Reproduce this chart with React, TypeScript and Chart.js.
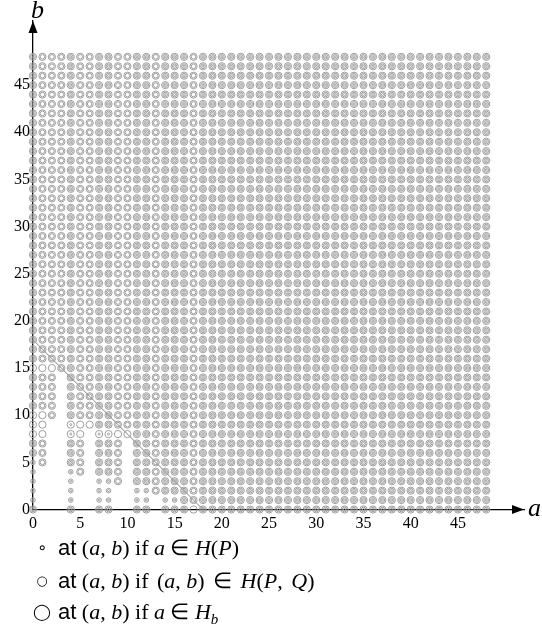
import React, { useEffect, useRef } from "react";
import { Chart, registerables } from "chart.js";

Chart.register(...registerables);

// grid extent (a and b run from 0 to these values)
const A_MAX = 48;
const B_MAX = 48;

// tick labels
const xTickValues = [0, 5, 10, 15, 20, 25, 30, 35, 40, 45];
const yTickValues = [0, 5, 10, 15, 20, 25, 30, 35, 40, 45];

// gaps of H(P): columns without the small circle
const hpGaps = [1, 2, 3, 5, 6, 9, 10, 13, 17];

// rows b = 0..15: a-values with neither medium nor large circle
const emptyByRow: number[][] = [
  [1, 2, 3, 5, 6, 9, 10, 13],
  [1, 2, 3, 5, 6, 9, 10, 13],
  [1, 2, 3, 5, 6, 9, 10],
  [1, 2, 3, 5, 6, 10],
  [1, 2, 3, 6, 10],
  [2, 3, 6, 10],
  [2, 3, 6, 10],
  [2, 3, 6, 10],
  [2, 3, 6],
  [2, 3],
  [3],
  [3],
  [3],
  [3],
  [3],
  [],
];

// rows b = 0..15: a-values with the medium circle only
const mediumOnlyByRow: number[][] = [
  [],
  [0, 4, 7, 8, 11, 12, 14, 15],
  [0, 4, 7, 8, 11, 12],
  [0, 4, 7, 8],
  [0, 4],
  [0],
  [], [], [], [], [], [], [], [], [], [],
];

// rows b = 0..15: a-values with the large circle only
const largeOnlyByRow: number[][] = [
  [17],
  [], [], [], [], [], [], [],
  [0, 1, 4, 5, 7, 8, 9, 10],
  [0, 1, 4, 5, 6],
  [0, 1],
  [], [], [], [],
  [0, 1, 2],
];

// the line a + b = 18
const diagonal = [
  { x: 0, y: 18 },
  { x: 18, y: 0 },
];

const RING = "#9e9e9e";

function buildPoints() {
  const small: { x: number; y: number }[] = [];
  const medium: { x: number; y: number }[] = [];
  const large: { x: number; y: number }[] = [];
  for (let b = 0; b <= B_MAX; b++) {
    for (let a = 0; a <= A_MAX; a++) {
      if (!hpGaps.includes(a)) small.push({ x: a, y: b });
      const empty = (emptyByRow[b] || []).includes(a);
      const mOnly = (mediumOnlyByRow[b] || []).includes(a);
      const lOnly = (largeOnlyByRow[b] || []).includes(a);
      if (empty) continue;
      if (!lOnly) medium.push({ x: a, y: b });
      if (!mOnly) large.push({ x: a, y: b });
    }
  }
  return { small, medium, large };
}

const arrowPlugin = {
  id: "arrows",
  afterDraw(chart: any) {
    const { ctx, chartArea } = chart;
    const x0 = chartArea.left;
    const y0 = chartArea.bottom;
    ctx.save();
    ctx.fillStyle = "#000";
    // up arrow
    ctx.beginPath();
    ctx.moveTo(x0, chartArea.top);
    ctx.lineTo(x0 - 4.5, chartArea.top + 12);
    ctx.lineTo(x0 + 4.5, chartArea.top + 12);
    ctx.closePath();
    ctx.fill();
    // right arrow
    ctx.beginPath();
    ctx.moveTo(chartArea.right, y0);
    ctx.lineTo(chartArea.right - 12, y0 - 4.5);
    ctx.lineTo(chartArea.right - 12, y0 + 4.5);
    ctx.closePath();
    ctx.fill();
    ctx.restore();
  },
};

export default function App() {
  const ref = useRef<HTMLCanvasElement | null>(null);
  useEffect(() => {
    if (!ref.current) return;
    const { small, medium, large } = buildPoints();
    const ringDs = (data: any[], r: number) => ({
      data,
      pointRadius: r,
      pointBorderWidth: 1,
      pointBorderColor: RING,
      pointBackgroundColor: "rgba(0,0,0,0)",
      showLine: false,
      clip: false as any,
    });
    const chart = new Chart(ref.current, {
      type: "scatter",
      data: {
        datasets: [
          ringDs(large, 3.6),
          ringDs(medium, 2.3),
          ringDs(small, 1.0),
          {
            data: diagonal,
            showLine: true,
            borderColor: "#808080",
            borderWidth: 1,
            pointRadius: 0,
            clip: false as any,
          },
        ],
      },
      options: {
        responsive: false,
        animation: false,
        events: [],
        layout: { padding: { top: 21, right: 18, left: 0, bottom: 0 } },
        plugins: { legend: { display: false }, tooltip: { enabled: false } },
        scales: {
          x: {
            type: "linear",
            min: 0,
            max: 52,
            grid: { display: false, drawTicks: false },
            border: { display: true, color: "#000", width: 1.3 },
            afterFit: (s: any) => {
              s.height = 116.5;
            },
            afterBuildTicks: (s: any) => {
              s.ticks = xTickValues.map((v) => ({ value: v }));
            },
            ticks: {
              padding: 5,
              autoSkip: false,
              maxRotation: 0,
              color: "#000",
              font: { family: "Liberation Serif", size: 16 },
              callback: (v: any) => String(v),
            },
          },
          y: {
            type: "linear",
            min: 0,
            max: 51.8,
            grid: { display: false, drawTicks: false },
            border: { display: true, color: "#000", width: 1.3 },
            afterFit: (s: any) => {
              s.width = 33;
            },
            afterBuildTicks: (s: any) => {
              s.ticks = yTickValues.map((v) => ({ value: v }));
            },
            ticks: {
              padding: 3,
              autoSkip: false,
              color: "#000",
              font: { family: "Liberation Serif", size: 16 },
              callback: (v: any) => String(v),
            },
          },
        },
      },
      plugins: [arrowPlugin],
    });
    return () => chart.destroy();
  }, []);

  const serif: React.CSSProperties = { fontFamily: "'Liberation Serif', serif" };
  const sans: React.CSSProperties = { fontFamily: "'Liberation Sans', sans-serif" };
  const it = (t: string) => <i style={serif}>{t}</i>;
  const gap = (w: number) => <span style={{ display: "inline-block", width: w }} />;
  const textStyle = (top: number): React.CSSProperties => ({
    position: "absolute",
    left: 58,
    top,
    fontSize: 22,
    lineHeight: "26px",
    whiteSpace: "nowrap",
    color: "#000",
    ...serif,
  });
  const glyphStyle = (top: number, size: number): React.CSSProperties => ({
    position: "absolute",
    left: 30,
    width: 24,
    top,
    textAlign: "center",
    fontSize: size,
    lineHeight: "26px",
    fontFamily: "'DejaVu Sans', sans-serif",
    color: "#000",
  });

  return (
    <div style={{ position: "absolute", left: 0, top: 0, width: 542, height: 626, background: "#fff" }}>
      <canvas ref={ref} width={542} height={626} style={{ position: "absolute", left: 0, top: 0 }} />
      <div style={{ position: "absolute", left: 31, top: -5, fontSize: 26, fontStyle: "italic", ...serif }}>b</div>
      <div style={{ position: "absolute", left: 528, top: 493, fontSize: 26, fontStyle: "italic", ...serif }}>a</div>

      <div style={glyphStyle(535, 16)}>∘</div>
      <div style={textStyle(535)}>
        <span style={sans}>at</span> ({it("a")}, {it("b")}) if {it("a")} ∈ {it("H")}({it("P")})
      </div>

      <div style={glyphStyle(568, 13)}>○</div>
      <div style={textStyle(568)}>
        <span style={sans}>at</span> ({it("a")}, {it("b")}) if{gap(3)} ({it("a")}, {it("b")}){gap(3)} ∈{gap(3)} {it("H")}({it("P")},{gap(3)} {it("Q")})
      </div>

      <div style={glyphStyle(599, 16)}>◯</div>
      <div style={textStyle(599)}>
        <span style={sans}>at</span> ({it("a")}, {it("b")}) if {it("a")} ∈ {it("H")}
        <sub style={{ fontSize: 15, lineHeight: 0 }}>{it("b")}</sub>
      </div>
    </div>
  );
}
